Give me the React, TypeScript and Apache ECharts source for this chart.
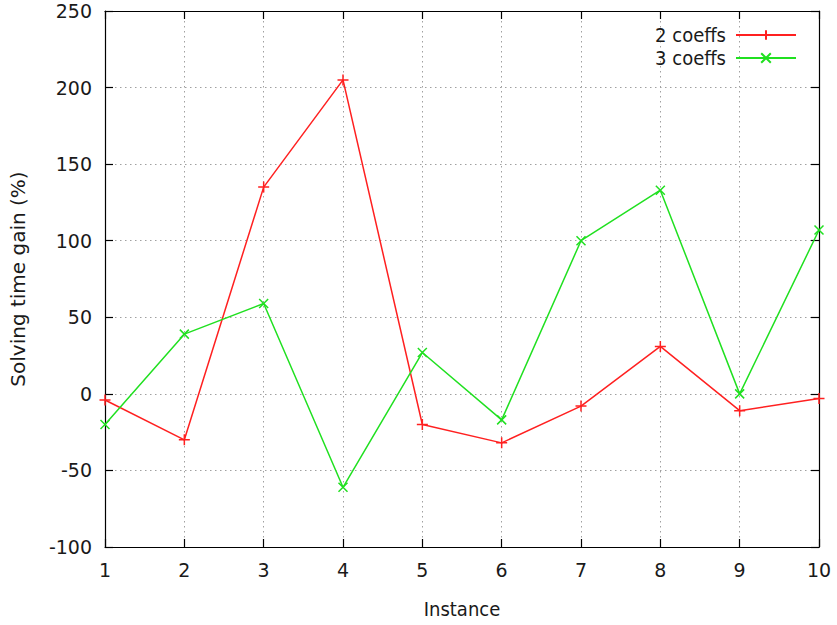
import React, { useEffect, useRef } from "react";
import * as echarts from "echarts";

const instances = [1, 2, 3, 4, 5, 6, 7, 8, 9, 10];
const twoCoeffs = [-4, -30, 135, 205, -20, -32, -8, 31, -11, -3];
const threeCoeffs = [-20, 39, 59, -61, 27, -17, 100, 133, 0, 107];

const FONT = "DejaVu Sans Condensed";
const TEXT = "#1a1a1a";
const PLUS = "path://M0,5L10,5M5,0L5,10";
const CROSS = "path://M0,0L10,10M0,10L10,0";

export default function App() {
  const ref = useRef<HTMLDivElement>(null);
  useEffect(() => {
    if (!ref.current) return;
    const chart = echarts.init(ref.current, undefined, { renderer: "svg" });
    const gridLine = { show: true, lineStyle: { color: "#a0a0a0", type: [1.5, 3.5] as any, width: 1 } };
    const tick = { show: true, inside: true, length: 8, lineStyle: { color: "#000", width: 1.2 } };
    const axisLine = { show: true, onZero: false, lineStyle: { color: "#000", width: 1.2 } };
    const label = { fontFamily: FONT, fontSize: 20, color: TEXT };
    const tickLabel = { fontFamily: "DejaVu Sans", fontSize: 19, color: TEXT };
    chart.setOption({
      animation: false,
      backgroundColor: "#fff",
      textStyle: { fontFamily: FONT },
      grid: { left: 104, right: 18, top: 11, bottom: 78, containLabel: false },
      legend: {
        right: 40,
        top: 25,
        padding: 0,
        orient: "vertical",
        align: "right",
        itemWidth: 60,
        itemHeight: 12,
        itemGap: 3,
        textStyle: { ...label, padding: [0, 5, 0, 0] },
        data: ["2 coeffs", "3 coeffs"],
      },
      xAxis: [
        {
          type: "value",
          min: 1,
          max: 10,
          interval: 1,
          name: "Instance",
          nameLocation: "middle",
          nameGap: 52,
          nameTextStyle: label,
          axisLine,
          axisTick: tick,
          splitLine: gridLine,
          axisLabel: { ...tickLabel, margin: 13 },
        },
        {
          type: "value",
          position: "top",
          min: 1,
          max: 10,
          interval: 1,
          axisLine,
          axisTick: tick,
          splitLine: { show: false },
          axisLabel: { show: false },
        },
      ],
      yAxis: [
        {
          type: "value",
          min: -100,
          max: 250,
          interval: 50,
          name: "Solving time gain (%)",
          nameLocation: "middle",
          nameGap: 77,
          nameTextStyle: { ...label, fontFamily: "DejaVu Sans" },
          axisLine,
          axisTick: tick,
          splitLine: gridLine,
          axisLabel: { ...tickLabel, margin: 13 },
        },
        {
          type: "value",
          position: "right",
          min: -100,
          max: 250,
          interval: 50,
          axisLine,
          axisTick: tick,
          splitLine: { show: false },
          axisLabel: { show: false },
        },
      ],
      series: [
        {
          name: "2 coeffs",
          type: "line",
          data: instances.map((x, i) => [x, twoCoeffs[i]]),
          symbol: PLUS,
          symbolSize: 11,
          showAllSymbol: true,
          lineStyle: { color: "#ff2020", width: 1.5 },
          itemStyle: { color: "#ff2020", borderColor: "#ff2020", borderWidth: 1.5 },
          clip: false,
        },
        {
          name: "3 coeffs",
          type: "line",
          data: instances.map((x, i) => [x, threeCoeffs[i]]),
          symbol: CROSS,
          symbolSize: 9,
          showAllSymbol: true,
          lineStyle: { color: "#20e020", width: 1.5 },
          itemStyle: { color: "#20e020", borderColor: "#20e020", borderWidth: 1.5 },
          clip: false,
        },
      ],
    });
    return () => chart.dispose();
  }, []);
  return <div ref={ref} style={{ width: 837, height: 625, position: "absolute", left: 0, top: 0 }} />;
}
